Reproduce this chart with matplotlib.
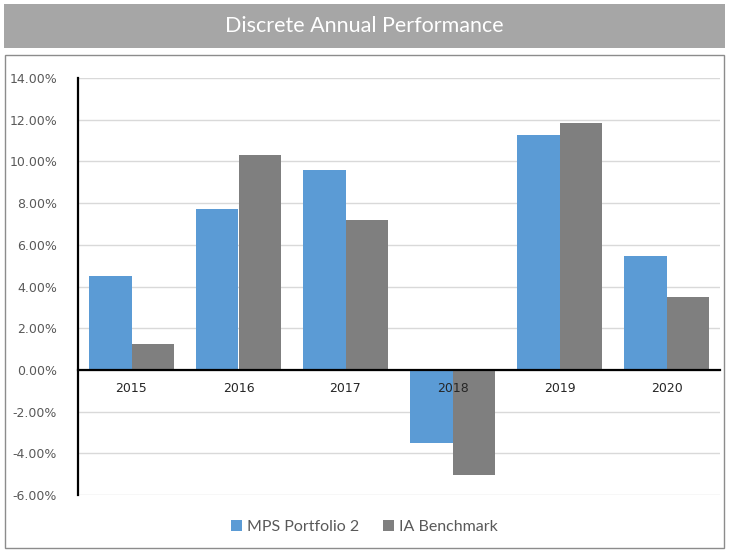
import numpy as np
import matplotlib.pyplot as plt
from matplotlib.patches import Rectangle
from matplotlib.ticker import FuncFormatter

years = ['2015', '2016', '2017', '2018', '2019', '2020']
mps_portfolio = [4.50, 7.72, 9.59, -3.50, 11.27, 5.47]
ia_benchmark = [1.25, 10.31, 7.19, -5.04, 11.85, 3.50]

blue = '#5B9BD5'
grey = '#7F7F7F'

fig = plt.figure(figsize=(7.29, 5.5), dpi=100)

# Bandeau du titre
fig.patches.append(Rectangle((4 / 729, 1 - 48 / 550), 721 / 729, 44 / 550,
                             transform=fig.transFigure, facecolor='#A6A6A6',
                             edgecolor='none', zorder=-2))
fig.text(0.5, 1 - 26 / 550, 'Discrete Annual Performance', ha='center', va='center',
         color='white', fontsize=15.5, family='Lato')

# Cadre du graphique
fig.patches.append(Rectangle((5 / 729, 2 / 550), 719 / 729, 493 / 550,
                             transform=fig.transFigure, facecolor='white',
                             edgecolor='#8C8C8C', linewidth=1, zorder=-2))

ax = fig.add_axes([78 / 729, 1 - 495 / 550, 642 / 729, 417 / 550])
ax.set_facecolor('none')
x = np.arange(len(years))
w = 0.4
ax.bar(x - w / 2, mps_portfolio, w, color=blue, label='MPS Portfolio 2', zorder=3)
ax.bar(x + w / 2, ia_benchmark, w, color=grey, label='IA Benchmark', zorder=3)

ax.set_xlim(-0.5, len(years) - 0.5)
ax.set_ylim(-6, 14)
ax.set_yticks(np.arange(-6, 15, 2))
ax.yaxis.set_major_formatter(FuncFormatter(lambda v, p: f'{v:.2f}%'))
ax.grid(axis='y', color='#D9D9D9', linewidth=1, zorder=0)
ax.set_axisbelow(True)

ax.set_xticks(x)
ax.set_xticklabels(years)
ax.spines['bottom'].set_position(('data', 0))
ax.spines['bottom'].set_color('black')
ax.spines['bottom'].set_linewidth(1.6)
ax.spines['bottom'].set_zorder(4)
ax.spines['left'].set_color('black')
ax.spines['left'].set_linewidth(1.6)
ax.spines['top'].set_visible(False)
ax.spines['right'].set_visible(False)
ax.tick_params(axis='x', length=0, pad=9, labelsize=9, labelcolor='#262626')
ax.tick_params(axis='y', length=0, pad=15, labelsize=9, labelcolor='#595959')
# l'étiquette 2018 passe au-dessus des barres négatives
ax.xaxis.set_zorder(5)

fig.legend(loc='center', bbox_to_anchor=(0.5, 1 - 527 / 550), ncol=2, frameon=False,
           handlelength=0.7, handleheight=0.7, handletextpad=0.3,
           columnspacing=1.5, labelcolor='#595959', prop={'family': 'Lato', 'size': 11.5})

fig.savefig('out.png', dpi=100)
